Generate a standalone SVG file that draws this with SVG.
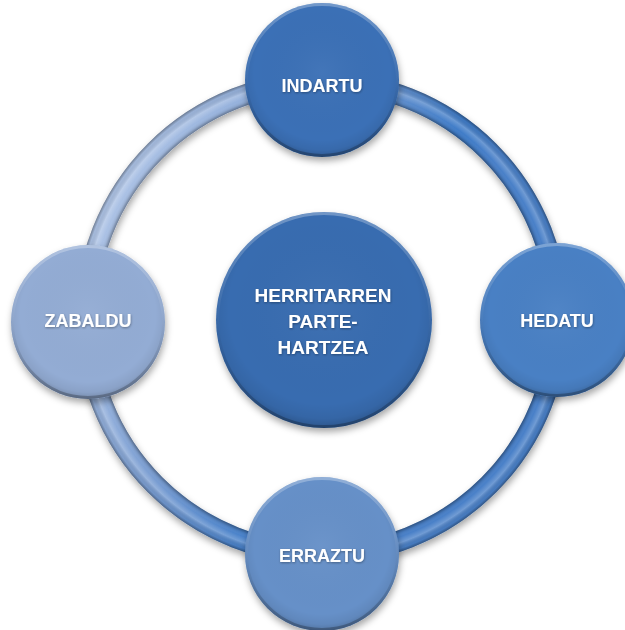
<svg xmlns="http://www.w3.org/2000/svg" width="625" height="630" viewBox="0 0 625 630">
<defs>
<style>
.lbl{font-family:"Liberation Sans",Arial,sans-serif;font-weight:bold;fill:#ffffff;text-anchor:middle;font-size:18px}
.ctr{font-size:19px}
.rim{fill:url(#rimShade)}
.bevel{fill:none;stroke:url(#bevelGrad);stroke-width:3}
</style>
<filter id="shadow" x="-30%" y="-30%" width="160%" height="160%">
<feDropShadow dx="1" dy="4" stdDeviation="3.5" flood-color="#000" flood-opacity="0.35"/>
</filter>
<filter id="tshadow" x="-10%" y="-30%" width="120%" height="160%">
<feDropShadow dx="0.5" dy="1" stdDeviation="0.8" flood-color="#000" flood-opacity="0.35"/>
</filter>
<linearGradient id="ringCol" gradientUnits="userSpaceOnUse" x1="120" y1="100" x2="460" y2="260">
<stop offset="0" stop-color="#b8cbea"/>
<stop offset="0.5" stop-color="#7b9ed2"/>
<stop offset="0.85" stop-color="#3f7cc8"/>
<stop offset="1" stop-color="#4a80c8"/>
</linearGradient>
<radialGradient id="ringShade" gradientUnits="userSpaceOnUse" cx="322" cy="318" r="247">
<stop offset="0.913" stop-color="#000" stop-opacity="0.35"/>
<stop offset="0.925" stop-color="#000" stop-opacity="0.08"/>
<stop offset="0.94" stop-color="#fff" stop-opacity="0"/>
<stop offset="0.963" stop-color="#fff" stop-opacity="0.22"/>
<stop offset="0.985" stop-color="#000" stop-opacity="0.05"/>
<stop offset="1" stop-color="#000" stop-opacity="0.4"/>
</radialGradient>
<radialGradient id="rimShade" cx="0.5" cy="0.45" r="0.55">
<stop offset="0" stop-color="#fff" stop-opacity="0.04"/>
<stop offset="0.8" stop-color="#000" stop-opacity="0"/>
<stop offset="0.92" stop-color="#000" stop-opacity="0.06"/>
<stop offset="1" stop-color="#000" stop-opacity="0.2"/>
</radialGradient>
<linearGradient id="bevelGrad" x1="0" y1="0" x2="0" y2="1">
<stop offset="0" stop-color="#fff" stop-opacity="0.28"/>
<stop offset="0.45" stop-color="#fff" stop-opacity="0.04"/>
<stop offset="0.6" stop-color="#000" stop-opacity="0.04"/>
<stop offset="1" stop-color="#000" stop-opacity="0.25"/>
</linearGradient>
</defs>
<rect width="625" height="630" fill="#ffffff"/>
<g id="connectors">
<circle cx="322" cy="318" r="236" fill="none" stroke="url(#ringCol)" stroke-width="21" filter="url(#shadow)"/>
<circle cx="322" cy="318" r="236" fill="none" stroke="url(#ringShade)" stroke-width="21"/>
</g>
<g id="center">
<circle cx="324" cy="320" r="108" fill="#386cb0" filter="url(#shadow)"/>
<circle cx="324" cy="320" r="108" class="rim"/>
<circle cx="324" cy="320" r="106.5" class="bevel"/>
<text class="lbl ctr" filter="url(#tshadow)"><tspan x="323" y="302">HERRITARREN</tspan><tspan x="323" y="328">PARTE-</tspan><tspan x="323" y="354">HARTZEA</tspan></text>
</g>
<g id="indartu">
<circle cx="322" cy="80" r="77" fill="#3a70b6" filter="url(#shadow)"/>
<circle cx="322" cy="80" r="77" class="rim"/>
<circle cx="322" cy="80" r="75.5" class="bevel"/>
<text class="lbl" x="322" y="92" filter="url(#tshadow)">INDARTU</text>
</g>
<g id="hedatu">
<circle cx="557" cy="320" r="77" fill="#4a80c4" filter="url(#shadow)"/>
<circle cx="557" cy="320" r="77" class="rim"/>
<circle cx="557" cy="320" r="75.5" class="bevel"/>
<text class="lbl" x="557" y="327" filter="url(#tshadow)">HEDATU</text>
</g>
<g id="erraztu">
<circle cx="322" cy="554" r="77" fill="#6690c8" filter="url(#shadow)"/>
<circle cx="322" cy="554" r="77" class="rim"/>
<circle cx="322" cy="554" r="75.5" class="bevel"/>
<text class="lbl" x="322" y="562" filter="url(#tshadow)">ERRAZTU</text>
</g>
<g id="zabaldu">
<circle cx="88" cy="322" r="77" fill="#93acd4" filter="url(#shadow)"/>
<circle cx="88" cy="322" r="77" class="rim"/>
<circle cx="88" cy="322" r="75.5" class="bevel"/>
<text class="lbl" x="88" y="327" filter="url(#tshadow)">ZABALDU</text>
</g>
</svg>
